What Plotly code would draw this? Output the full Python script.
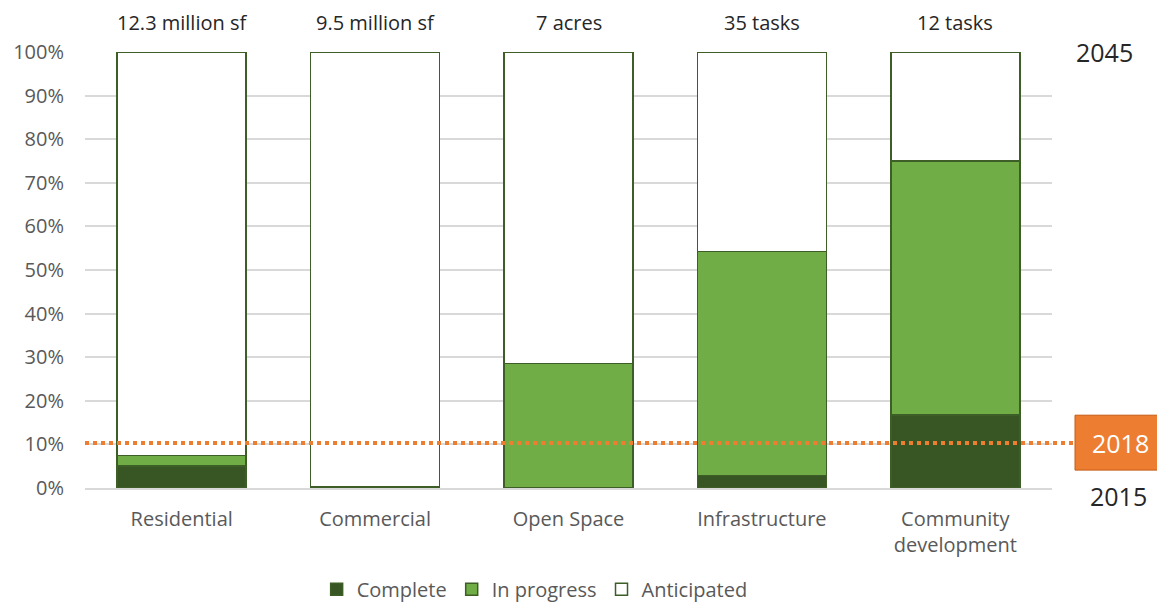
import plotly.graph_objects as go

categorias = ['Residential', 'Commercial', 'Open Space', 'Infrastructure', 'Community<br>development']
totais = ['12.3 million sf', '9.5 million sf', '7 acres', '35 tasks', '12 tasks']

# percentuais
complete = [5.0, 0.4, 0.0, 2.86, 16.7]
in_progress = [2.4, 0.0, 28.5, 51.4, 58.3]
anticipated = [92.6, 99.6, 71.5, 45.74, 25.0]

ano_atual = '2018'
linha_atual = 10.3
ano_inicio = '2015'
ano_fim = '2045'

borda = '#3d5e27'

fig = go.Figure()

fig.add_trace(go.Bar(
    x=categorias, y=complete, name='Complete',
    marker=dict(color='#375623', line=dict(color=borda, width=1.5)),
))
fig.add_trace(go.Bar(
    x=categorias, y=in_progress, name='In progress',
    marker=dict(color='#70AD47', line=dict(color=borda, width=1.5)),
))
fig.add_trace(go.Bar(
    x=categorias, y=anticipated, name='Anticipated',
    marker=dict(color='#FFFFFF', line=dict(color=borda, width=1.5)),
))

# rótulos de total acima das barras
for cat, txt in zip(categorias, totais):
    fig.add_annotation(
        x=cat, y=100, text=txt, showarrow=False,
        yanchor='bottom', yshift=14,
        font=dict(size=20, color='#262626'),
    )

# linha pontilhada do ano atual
fig.add_shape(
    type='line', xref='paper', yref='y',
    x0=0, x1=1.024, y0=linha_atual, y1=linha_atual,
    line=dict(color='#ED7D31', width=4, dash='dot'),
    layer='above',
)
fig.add_shape(
    type='rect', xref='paper', yref='y',
    x0=1.0238, x1=1.13, y0=4.1, y1=16.7,
    fillcolor='#ED7D31', line=dict(color='#C55A11', width=1),
    layer='above',
)
fig.add_annotation(
    xref='paper', yref='y', x=1.0705, y=linha_atual, text=ano_atual,
    showarrow=False, xanchor='center', yanchor='middle',
    font=dict(size=25, color='white'),
)
fig.add_annotation(
    xref='paper', yref='y', x=1, y=100, text=ano_fim,
    showarrow=False, xanchor='left', xshift=22,
    font=dict(size=25, color='#262626'),
)
fig.add_annotation(
    xref='paper', yref='y', x=1, y=0, text=ano_inicio,
    showarrow=False, xanchor='left', yanchor='top', xshift=36, yshift=11,
    font=dict(size=25, color='#262626'),
)

fig.update_layout(
    barmode='stack',
    bargap=0.333,
    width=1157,
    height=599,
    plot_bgcolor='white',
    paper_bgcolor='white',
    font=dict(family='Open Sans, sans-serif', size=20, color='#595959'),
    margin=dict(l=77, r=113, t=44, b=119, autoexpand=False),
    hovermode=False,
    legend=dict(
        orientation='h',
        x=0.465, xanchor='center',
        y=-0.232, yanchor='middle',
        font=dict(size=20, color='#595959'),
        traceorder='normal',
    ),
)
fig.update_xaxes(
    showgrid=False, showline=True, linecolor='#d9d9d9', linewidth=2,
    ticklabelstandoff=12, automargin=False,
)
fig.update_yaxes(
    range=[0, 100], dtick=10, ticksuffix='%',
    showgrid=True, gridcolor='#d9d9d9', gridwidth=1.5,
    zeroline=False, ticklabelstandoff=20, automargin=False,
)

fig.write_html('out.html')
